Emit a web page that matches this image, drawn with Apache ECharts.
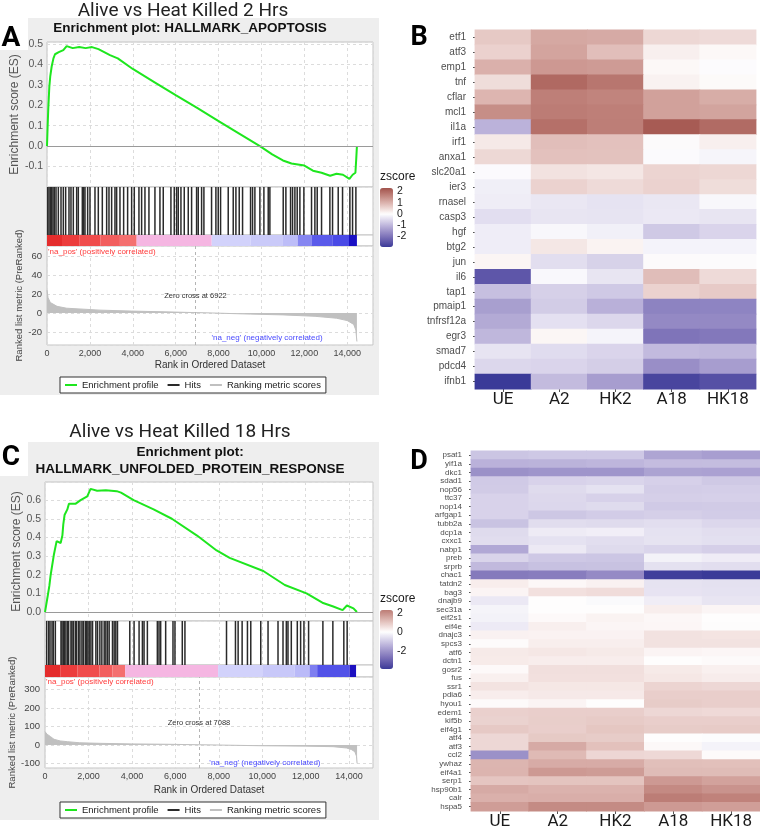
<!DOCTYPE html>
<html>
<head>
<meta charset="utf-8">
<title>GSEA enrichment and zscore heatmaps</title>
<script src="https://cdn.jsdelivr.net/npm/echarts/dist/echarts.min.js"></script>
<style>
    html, body { margin: 0; padding: 0; background: #fff; }
    #main { width: 760px; height: 830px; }
</style>
</head>
<body>
<div id="main"></div>
<script>
//富集曲线 A: [rank, ES]
var esA = [[0, 0], [30, 0.1], [62, 0.19], [108, 0.29], [150, 0.34], [218, 0.39], [300, 0.43], [373, 0.45], [550, 0.46],
    [761, 0.47], [917, 0.49], [1200, 0.48], [1500, 0.485], [1800, 0.48], [2100, 0.485], [2400, 0.475], [2936, 0.446],
    [3300, 0.43], [4000, 0.378], [5000, 0.314], [6000, 0.25], [7000, 0.187], [8000, 0.123], [9000, 0.059], [9926, 0],
    [10500, -0.04], [11000, -0.07], [11400, -0.085], [12000, -0.095], [12400, -0.12], [12800, -0.13], [13200, -0.145],
    [13500, -0.135], [13800, -0.14], [14100, -0.16], [14250, -0.14], [14380, -0.13], [14420, -0.06], [14450, 0]];
//富集曲线 C
var esC = [[0, 0], [80, -0.01], [130, 0.09], [200, 0.14], [262, 0.2], [330, 0.21], [413, 0.31], [535, 0.38], [720, 0.37],
    [800, 0.41], [842, 0.47], [900, 0.52], [1028, 0.55], [1102, 0.58], [1400, 0.58], [1639, 0.6], [1945, 0.62], [2098, 0.66],
    [2400, 0.65], [2800, 0.653], [3300, 0.648], [3500, 0.64], [4080, 0.6], [5000, 0.55], [5840, 0.5], [7000, 0.41],
    [7900, 0.33], [8500, 0.29], [10050, 0.22], [11040, 0.145], [12040, 0.1], [12770, 0.05], [13270, 0.03], [13700, 0.01],
    [13900, 0.035], [14200, 0.02], [14360, 0]];

//命中基因位置
var hitsA = [31, 93, 155, 217, 280, 342, 420, 528, 653, 761, 870, 1025, 1118, 1227, 1383, 1460, 1647, 1709, 1771, 1895,
    2004, 2237, 2392, 2579, 2781, 2890, 3014, 3169, 3247, 3402, 3573, 3759, 3946, 4070, 4287, 4412, 4567, 4753, 5033,
    5266, 5421, 5778, 5934, 6043, 6120, 6245, 6400, 6586, 6742, 6975, 7052, 7208, 7316, 7673, 7875, 7984, 8093, 8450,
    8683, 8808, 8963, 9118, 9491, 9584, 9693, 9926, 10113, 10315, 10392, 11014, 11138, 11356, 11449, 11558, 11666,
    11791, 11977, 12334, 12490, 12599, 12801, 13189, 13314, 13578, 13780, 14122, 14247, 14402];
var hitsC = [78, 170, 231, 323, 384, 476, 736, 782, 843, 904, 965, 1042, 1088, 1195, 1241, 1302, 1394, 1455, 1547, 1608,
    1700, 1761, 1853, 1914, 1975, 2036, 2113, 2189, 2342, 2419, 2526, 2617, 2725, 2801, 2878, 2954, 3107, 3184, 3260,
    3337, 3903, 4101, 4331, 4484, 4560, 4713, 5172, 5249, 5325, 5555, 5892, 5983, 6320, 6442, 8356, 8768, 8891, 9075,
    9320, 9473, 9932, 10268, 10727, 10957, 11110, 11186, 11339, 11615, 11768, 11921, 12135, 12793, 13252, 13757, 13910];

//排序指标
var metricA = [[0, 24], [50, 16], [155, 11], [466, 7], [918, 5], [2470, 3], [3950, 2], [5500, 1.2], [6900, 0.4], [6922, 0],
    [7700, 0], [7701, -0.5], [9500, -1.2], [11000, -2], [12500, -3.5], [13500, -5.5], [14000, -8], [14300, -12],
    [14400, -18], [14450, -30]];
var metricC = [[0, 72], [100, 58], [260, 45], [413, 31], [700, 22], [1028, 18], [1600, 12], [2557, 9], [4000, 6],
    [5618, 4], [7000, 1.5], [7088, 0], [7970, 0], [7971, -2], [10000, -4], [12000, -6], [13266, -9], [13880, -16],
    [14100, -24], [14262, -36], [14340, -60], [14367, -99]];
var zeroCrossA = 6922;
var zeroCrossC = 7088;

//色条分段 (rank)
var barEdgesA = [0, 700, 1500, 2500, 3400, 4180, 7680, 9500, 11000, 11690, 12330, 13300, 14080, 14450];
var barEdgesC = [0, 700, 1500, 2500, 3100, 3690, 7970, 10000, 11500, 12180, 12530, 14020, 14320];
var barColorsA = ['#e42c2c', '#ec3c3c', '#f04c4c', '#f25e5e', '#f47070', '#f5b6e2', '#d2d2fb', '#cacaf9', '#bdbdf8',
    '#8686f1', '#5a5aea', '#4a4ae6', '#1a10c4'];
var barColorsC = ['#e42c2c', '#ec3c3c', '#f04c4c', '#f25e5e', '#f47070', '#f5b6e2', '#d2d2fb', '#c8c8f9', '#babaf8',
    '#7e7ef0', '#5252e8', '#1c10c0'];

//热图
var samples = ['UE', 'A2', 'HK2', 'A18', 'HK18'];
var genesB = ['etf1', 'atf3', 'emp1', 'tnf', 'cflar', 'mcl1', 'il1a', 'irf1', 'anxa1', 'slc20a1', 'ier3', 'rnasel',
    'casp3', 'hgf', 'btg2', 'jun', 'il6', 'tap1', 'pmaip1', 'tnfrsf12a', 'egr3', 'smad7', 'pdcd4', 'ifnb1'];
var zB = [
    [0.70, 1.14, 1.11, 0.51, 0.47],
    [0.59, 1.19, 0.84, 0.20, 0.09],
    [1.03, 1.35, 1.31, 0.09, -0.04],
    [0.44, 2.00, 1.82, 0.17, 0.05],
    [0.96, 1.70, 1.63, 1.24, 1.08],
    [1.50, 1.74, 1.70, 1.23, 1.20],
    [-1.06, 1.90, 1.72, 2.20, 1.98],
    [0.28, 0.84, 0.80, 0.00, 0.20],
    [0.50, 0.80, 0.79, -0.06, -0.13],
    [-0.06, 0.37, 0.32, 0.55, 0.52],
    [-0.22, 0.58, 0.47, 0.58, 0.44],
    [-0.25, -0.33, -0.39, -0.33, -0.10],
    [-0.45, -0.36, -0.37, -0.31, -0.36],
    [-0.24, -0.10, -0.21, -0.74, -0.58],
    [-0.24, 0.31, 0.16, -0.16, -0.16],
    [0.13, -0.46, -0.62, 0.00, -0.02],
    [-2.47, -0.09, -0.36, 0.86, 0.47],
    [-0.88, -0.64, -0.74, 0.58, 0.68],
    [-1.35, -0.70, -1.10, -1.77, -1.75],
    [-1.19, -0.42, -0.54, -1.67, -1.67],
    [-1.00, 0.12, -0.15, -1.99, -1.93],
    [-0.37, -0.48, -0.58, -0.95, -1.00],
    [-0.55, -0.58, -0.67, -1.59, -1.37],
    [-2.93, -0.94, -1.37, -2.75, -2.57]
];
var genesD = ['psat1', 'yif1a', 'dkc1', 'sdad1', 'nop56', 'ttc37', 'nop14', 'arfgap1', 'tubb2a', 'dcp1a', 'cxxc1',
    'nabp1', 'preb', 'srprb', 'chac1', 'tatdn2', 'bag3', 'dnajb9', 'sec31a', 'eif2s1', 'eif4e', 'dnajc3', 'spcs3',
    'atf6', 'dctn1', 'gosr2', 'fus', 'ssr1', 'pdia6', 'hyou1', 'edem1', 'kif5b', 'eif4g1', 'atf4', 'atf3', 'ccl2',
    'ywhaz', 'eif4a1', 'serp1', 'hsp90b1', 'calr', 'hspa5'];
var zD = [
    [-1.07, -1.01, -1.01, -1.68, -1.80],
    [-1.43, -1.41, -1.35, -1.23, -1.21],
    [-2.06, -1.98, -1.98, -1.72, -1.74],
    [-0.97, -0.81, -0.77, -0.85, -0.99],
    [-0.95, -0.67, -0.53, -0.91, -0.89],
    [-0.81, -0.71, -0.83, -0.87, -0.85],
    [-0.81, -0.73, -0.67, -0.97, -0.95],
    [-0.81, -1.03, -0.93, -0.87, -0.93],
    [-1.11, -0.63, -0.67, -0.61, -0.73],
    [-0.67, -0.36, -0.30, -0.53, -0.61],
    [-0.63, -0.53, -0.61, -0.51, -0.57],
    [-1.62, -0.40, -0.67, -0.77, -0.87],
    [-0.79, -1.01, -1.05, -0.24, -0.34],
    [-1.29, -1.15, -1.13, -0.55, -0.61],
    [-2.53, -2.46, -2.20, -3.80, -3.90],
    [0.30, 0.12, 0.23, -0.51, -0.55],
    [0.18, 0.53, 0.59, -0.50, -0.53],
    [-0.42, 0.00, -0.10, -0.32, -0.48],
    [-0.20, 0.00, 0.00, 0.28, 0.16],
    [-0.24, 0.09, 0.20, 0.12, 0.00],
    [-0.38, 0.27, 0.16, 0.14, 0.02],
    [0.23, 0.21, 0.21, 0.50, 0.45],
    [0.05, 0.28, 0.28, 0.50, 0.50],
    [0.36, 0.41, 0.36, 0.18, 0.14],
    [0.34, 0.30, 0.30, 0.00, 0.07],
    [0.09, 0.55, 0.55, 0.36, 0.25],
    [0.25, 0.53, 0.52, 0.41, 0.32],
    [0.48, 0.41, 0.41, 0.73, 0.68],
    [0.30, 0.37, 0.37, 0.84, 0.84],
    [0.07, 0.18, 0.00, 0.89, 0.84],
    [0.80, 0.84, 0.84, 0.68, 0.64],
    [0.77, 0.85, 0.91, 0.84, 0.84],
    [0.94, 0.84, 0.98, 0.89, 0.91],
    [0.68, 0.93, 0.89, 0.00, -0.06],
    [0.68, 1.48, 1.07, 0.10, -0.22],
    [-2.06, 1.19, 0.69, 0.66, 0.07],
    [1.28, 1.46, 1.46, 1.12, 1.10],
    [1.30, 1.78, 1.74, 1.17, 1.17],
    [1.00, 1.03, 1.03, 1.78, 1.62],
    [1.48, 1.34, 1.34, 2.06, 1.89],
    [1.37, 1.41, 1.41, 2.30, 2.20],
    [1.71, 2.05, 2.05, 1.78, 1.69]
];
var zRangeB = [-2.93, 2.31];
var zRangeD = [-3.9, 2.3];
var legendTicksB = [2, 1, 0, -1, -2];
var legendTicksD = [2, 0, -2];

var grids = [], xAxes = [], yAxes = [], series = [], visualMaps = [];
var dashed = { show: true, lineStyle: { color: '#dcdcdc', type: [3, 3], width: 1 } };

function addGrid(g) {
    grids.push(g);
    return grids.length - 1;
}
function addAxes(gi, xa, ya) {
    xa.gridIndex = gi;
    ya.gridIndex = gi;
    xAxes.push(xa);
    yAxes.push(ya);
    return [xAxes.length - 1, yAxes.length - 1];
}

/**
 * @desc Lab 颜色插值 (ggplot gradient2)
 */
function hexToLab(hex) {
    function lin(c) { return c <= 0.04045 ? c / 12.92 : Math.pow((c + 0.055) / 1.055, 2.4); }
    function f(t) { return t > 0.008856 ? Math.cbrt(t) : 7.787 * t + 16 / 116; }
    var r = lin(parseInt(hex.substr(1, 2), 16) / 255);
    var g = lin(parseInt(hex.substr(3, 2), 16) / 255);
    var b = lin(parseInt(hex.substr(5, 2), 16) / 255);
    var fx = f((0.4124 * r + 0.3576 * g + 0.1805 * b) / 0.95047);
    var fy = f(0.2126 * r + 0.7152 * g + 0.0722 * b);
    var fz = f((0.0193 * r + 0.1192 * g + 0.9505 * b) / 1.08883);
    return [116 * fy - 16, 500 * (fx - fy), 200 * (fy - fz)];
}
function labToRgb(lab) {
    function finv(t) { return t * t * t > 0.008856 ? t * t * t : (t - 16 / 116) / 7.787; }
    function gam(c) {
        c = c <= 0.0031308 ? 12.92 * c : 1.055 * Math.pow(c, 1 / 2.4) - 0.055;
        return Math.max(0, Math.min(255, Math.round(c * 255)));
    }
    var fy = (lab[0] + 16) / 116, fx = fy + lab[1] / 500, fz = fy - lab[2] / 200;
    var x = finv(fx) * 0.95047, y = finv(fy), z = finv(fz) * 1.08883;
    var r = 3.2406 * x - 1.5372 * y - 0.4986 * z;
    var g = -0.9689 * x + 1.8758 * y + 0.0415 * z;
    var b = 0.0557 * x - 0.2040 * y + 1.0570 * z;
    return 'rgb(' + gam(r) + ',' + gam(g) + ',' + gam(b) + ')';
}
function zscoreColors(range, n) {
    var low = hexToLab('#3A3A98'), mid = hexToLab('#FFFFFF'), high = hexToLab('#832424');
    var lim = Math.max(Math.abs(range[0]), Math.abs(range[1]));
    var out = [];
    for (var i = 0; i < n; i++) {
        var v = range[0] + (range[1] - range[0]) * i / (n - 1);
        var t = Math.abs(v) / lim, end = v < 0 ? low : high;
        out.push(labToRgb([mid[0] + (end[0] - mid[0]) * t, mid[1] + (end[1] - mid[1]) * t, mid[2] + (end[2] - mid[2]) * t]));
    }
    return out;
}

function rankAxis(p, showLabels) {
    return {
        type: 'value', min: 0, max: p.xMax, interval: 2000,
        axisLine: { show: false }, axisTick: { show: false },
        splitLine: dashed,
        axisLabel: showLabels ? {
            show: true, margin: 4, fontSize: 9, color: '#444', showMaxLabel: false,
            formatter: function (v) { return v.toLocaleString('en-US'); }
        } : { show: false },
        name: showLabels ? 'Rank in Ordered Dataset' : '',
        nameLocation: 'middle', nameGap: p.xNameGap,
        nameTextStyle: { fontSize: 10, color: '#333' }
    };
}

/**
 * @desc GSEA 面板 (ES / hits / 色条 / 排序指标)
 */
function buildGsea(p) {
    var box = { left: p.left, width: p.width, show: true, backgroundColor: '#fff', borderColor: '#c4c4c4', borderWidth: 1 };
    //ES
    var g = addGrid(Object.assign({ top: p.esTop, height: p.hitsTop - p.esTop }, box));
    var ax = addAxes(g, rankAxis(p, false), {
        type: 'value', min: p.esRange[0], max: p.esRange[1], splitNumber: 7,
        axisLine: { show: false }, axisTick: { show: false }, splitLine: dashed,
        axisLabel: {
            margin: 4, fontSize: 10.5, color: '#555', showMinLabel: false, showMaxLabel: false,
            formatter: function (v) { return v.toFixed(1); }
        },
        name: 'Enrichment score (ES)', nameLocation: 'middle', nameGap: p.esNameGap,
        nameTextStyle: { fontSize: 12, color: '#555' }
    });
    series.push({
        name: 'Enrichment profile', type: 'line', xAxisIndex: ax[0], yAxisIndex: ax[1], data: p.es,
        showSymbol: false, color: '#1ee61e', lineStyle: { width: 2 }, z: 4,
        markLine: {
            silent: true, symbol: 'none', label: { show: false },
            lineStyle: { color: '#9a9a9a', type: 'solid', width: 1 }, data: [{ yAxis: 0 }]
        }
    });
    //hits
    g = addGrid(Object.assign({ top: p.hitsTop, height: p.barTop - p.hitsTop }, box));
    ax = addAxes(g, rankAxis(p, false), { type: 'value', min: 0, max: 1, show: false });
    series.push({
        name: 'Hits', type: 'bar', xAxisIndex: ax[0], yAxisIndex: ax[1], barWidth: 1.5, color: '#2a2a2a',
        data: p.hits.map(function (r) { return [r, 1]; })
    });
    //色条
    g = addGrid(Object.assign({ top: p.barTop, height: p.rankTop - p.barTop }, box));
    ax = addAxes(g, { type: 'value', min: 0, max: p.xMax, show: false }, { type: 'value', min: 0, max: 1, show: false });
    var segs = [];
    for (var i = 0; i < p.edges.length - 1; i++) {
        segs.push([p.edges[i], p.edges[i + 1], i]);
    }
    var colors = p.colors;
    series.push({
        type: 'custom', xAxisIndex: ax[0], yAxisIndex: ax[1], silent: true, data: segs,
        encode: { x: [0, 1] },
        renderItem: function (params, api) {
            var a = api.coord([api.value(0), 1]);
            var b = api.coord([api.value(1), 0]);
            return { type: 'rect', shape: { x: a[0], y: a[1], width: b[0] - a[0], height: b[1] - a[1] }, style: { fill: colors[api.value(2)] } };
        }
    });
    //排序指标
    g = addGrid(Object.assign({ top: p.rankTop, height: p.rankBottom - p.rankTop }, box));
    ax = addAxes(g, rankAxis(p, true), {
        type: 'value', min: p.mRange[0], max: p.mRange[1], splitNumber: 5,
        axisLine: { show: false }, axisTick: { show: false }, splitLine: dashed,
        axisLabel: { margin: 5, fontSize: 9.5, color: '#444', showMinLabel: false, showMaxLabel: false },
        name: 'Ranked list metric (PreRanked)', nameLocation: 'middle', nameGap: p.mNameGap,
        nameTextStyle: { fontSize: 9.5, color: '#444' }
    });
    series.push({
        name: 'Ranking metric scores', type: 'line', xAxisIndex: ax[0], yAxisIndex: ax[1], data: p.metric,
        showSymbol: false, color: '#c0c0c0', lineStyle: { width: 1 }, areaStyle: { color: '#c0c0c0', opacity: 1 },
        markLine: {
            silent: true, symbol: 'none', label: { show: false },
            lineStyle: { color: '#b4b4b4', type: [3, 3], width: 1 }, data: [{ xAxis: p.zero }]
        },
        markPoint: {
            silent: true, symbol: 'circle', symbolSize: 0,
            label: { show: true, position: 'inside', fontSize: 8 },
            data: [
                { coord: [p.zero, p.zeroLabelY], label: { formatter: 'Zero cross at ' + p.zero, color: '#333', fontSize: 7.5 } },
                { coord: [50, p.posLabelY], label: { formatter: "'na_pos' (positively correlated)", color: '#ff3a3a', align: 'left' } },
                { coord: p.negLabelAt, label: { formatter: "'na_neg' (negatively correlated)", color: '#4a4aff' } }
            ]
        }
    });
}

/**
 * @desc zscore 热图 + 图例
 */
function buildHeat(h) {
    var g = addGrid({ left: h.left, top: h.top, width: h.width, height: h.height });
    var ax = addAxes(g, {
        type: 'category', data: samples,
        axisLine: { show: false }, splitLine: { show: false },
        axisTick: { show: true, alignWithLabel: true, length: 3, lineStyle: { color: '#555' } },
        axisLabel: { margin: 2, fontSize: 17, color: '#1a1a1a', fontFamily: 'Roboto' }
    }, {
        type: 'category', data: h.genes, inverse: true,
        axisLine: { show: false }, splitLine: { show: false },
        axisTick: { show: true, alignWithLabel: true, length: 2, lineStyle: { color: '#555' } },
        axisLabel: { margin: 9, fontSize: h.labelSize, color: '#4d4d4d', interval: 0 }
    });
    var data = [];
    h.z.forEach(function (row, r) {
        row.forEach(function (v, c) { data.push([c, r, v]); });
    });
    //格子略微重叠, 避免白缝
    series.push({
        type: 'custom', xAxisIndex: ax[0], yAxisIndex: ax[1], data: data, silent: true,
        encode: { x: 0, y: 1 },
        renderItem: function (params, api) {
            var c = api.coord([api.value(0), api.value(1)]);
            var s = api.size([1, 1]);
            return {
                type: 'rect',
                shape: { x: c[0] - s[0] / 2 - 0.4, y: c[1] - s[1] / 2 - 0.4, width: s[0] + 0.8, height: s[1] + 0.8 },
                style: { fill: api.visual('color') }
            };
        }
    });
    visualMaps.push({
        type: 'continuous', seriesIndex: series.length - 1, dimension: 2, min: h.range[0], max: h.range[1],
        orient: 'vertical', left: 380, top: h.legTop, itemWidth: 13, itemHeight: 59, padding: 0,
        calculable: false, hoverLink: false, showLabel: false,
        inRange: { color: zscoreColors(h.range, 41) }
    });
    //图例刻度
    g = addGrid({ left: 393, top: h.legTop, width: 1, height: 59 });
    addAxes(g, { type: 'value', show: false }, {
        type: 'value', min: h.range[0], max: h.range[1], position: 'left',
        axisLine: { show: false }, splitLine: { show: false },
        axisTick: { show: true, customValues: h.ticks, length: 3, lineStyle: { color: '#fff' } },
        axisLabel: { inside: true, margin: 4, fontSize: 10.5, color: '#1a1a1a', customValues: h.ticks }
    });
}

buildGsea({
    left: 47, width: 326, xMax: 15200, esTop: 42, hitsTop: 187, barTop: 235, rankTop: 246, rankBottom: 345,
    esRange: [-0.2, 0.51], mRange: [-33.7, 70.5], esNameGap: 26, mNameGap: 20, xNameGap: 15,
    es: esA, hits: hitsA, metric: metricA, edges: barEdgesA, colors: barColorsA,
    zero: zeroCrossA, zeroLabelY: 18, posLabelY: 64, negLabelAt: [10260, -26]
});
buildGsea({
    left: 45, width: 328, xMax: 15100, esTop: 482, hitsTop: 621, barTop: 665, rankTop: 677, rankBottom: 768,
    esRange: [-0.048, 0.697], mRange: [-124, 367], esNameGap: 21, mNameGap: 24, xNameGap: 17,
    es: esC, hits: hitsC, metric: metricC, edges: barEdgesC, colors: barColorsC,
    zero: zeroCrossC, zeroLabelY: 119, posLabelY: 340, negLabelAt: [10125, -97]
});
buildHeat({ left: 475, top: 30, width: 281, height: 359, genes: genesB, z: zB, labelSize: 10, range: zRangeB, ticks: legendTicksB, legTop: 188 });
buildHeat({ left: 471, top: 451, width: 289, height: 360, genes: genesD, z: zD, labelSize: 8, range: zRangeD, ticks: legendTicksD, legTop: 610 });

function gseaLegend(top) {
    return {
        left: 60, top: top, orient: 'horizontal', selectedMode: false,
        data: ['Enrichment profile', 'Hits', 'Ranking metric scores'],
        backgroundColor: '#fff', borderColor: '#333', borderWidth: 1, padding: [3, 5],
        icon: 'rect', itemWidth: 12, itemHeight: 2, itemGap: 9,
        textStyle: { fontSize: 9.5, color: '#222' }
    };
}

function text(x, y, str, font, align, fill) {
    return {
        type: 'text', x: x, y: y, silent: true,
        style: { text: str, font: font, fill: fill || '#222', align: align || 'center', verticalAlign: 'middle' }
    };
}

var option = {
    animation: false,
    backgroundColor: '#fff',
    textStyle: { fontFamily: 'Liberation Sans' },
    grid: grids,
    xAxis: xAxes,
    yAxis: yAxes,
    visualMap: visualMaps,
    legend: [gseaLegend(377), gseaLegend(802)],
    series: series,
    graphic: [
        //灰底
        { type: 'rect', z: -10, silent: true, shape: { x: 0, y: 18, width: 379, height: 377 }, style: { fill: '#eeeeee' } },
        { type: 'rect', z: -9, silent: true, shape: { x: 0, y: 18, width: 28, height: 32 }, style: { fill: '#fff' } },
        { type: 'rect', z: -10, silent: true, shape: { x: 0, y: 442, width: 379, height: 378 }, style: { fill: '#eeeeee' } },
        { type: 'rect', z: -9, silent: true, shape: { x: 0, y: 442, width: 28, height: 34 }, style: { fill: '#fff' } },
        text(183, 11, 'Alive vs Heat Killed 2 Hrs', '19px Roboto'),
        text(180, 432, 'Alive vs Heat Killed 18 Hrs', '19px Roboto'),
        text(190, 28, 'Enrichment plot: HALLMARK_APOPTOSIS', 'bold 13.5px "Liberation Sans"', 'center', '#111'),
        text(190, 452, 'Enrichment plot:', 'bold 13.5px "Liberation Sans"', 'center', '#111'),
        text(190, 469, 'HALLMARK_UNFOLDED_PROTEIN_RESPONSE', 'bold 13.5px "Liberation Sans"', 'center', '#111'),
        text(11, 39, 'A', 'bold 28px Roboto', 'center', '#000'),
        text(419, 38, 'B', 'bold 27px Roboto', 'center', '#000'),
        text(11, 458, 'C', 'bold 28px Roboto', 'center', '#000'),
        text(419, 462, 'D', 'bold 27px Roboto', 'center', '#000'),
        text(380, 177, 'zscore', '12px "Liberation Sans"', 'left', '#1a1a1a'),
        text(380, 599, 'zscore', '12px "Liberation Sans"', 'left', '#1a1a1a')
    ]
};

var myChart = echarts.init(document.getElementById('main'), null, { renderer: 'canvas' });
myChart.setOption(option);
</script>
</body>
</html>
